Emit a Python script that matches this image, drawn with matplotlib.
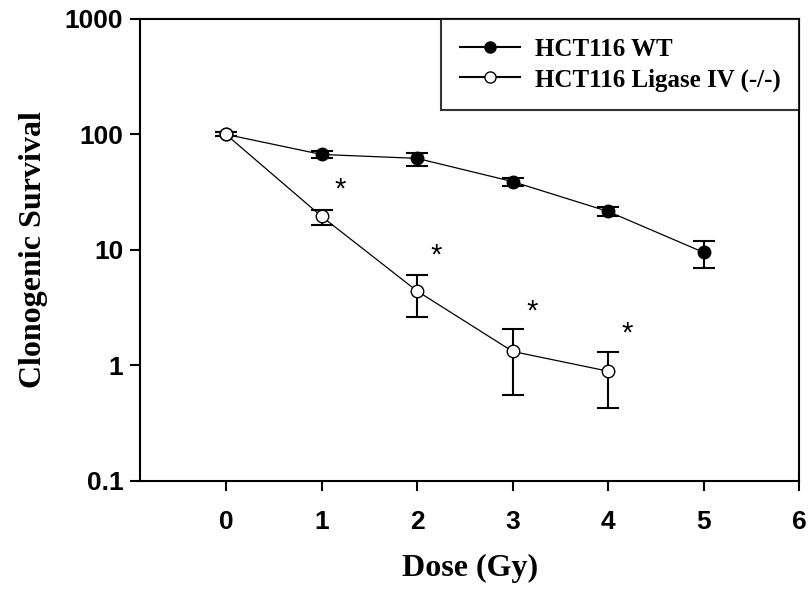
import matplotlib
matplotlib.use("Agg")
import matplotlib.pyplot as plt
from matplotlib.ticker import FixedLocator, NullLocator
from matplotlib.lines import Line2D

dose = [0, 1, 2, 3, 4, 5]
wt = [100, 67, 62, 39, 21.5, 9.5]
wt_lo = [96, 62, 53, 36, 19.5, 7.0]
wt_hi = [104, 72, 69, 42, 23.3, 11.9]

lig_dose = [0, 1, 2, 3, 4]
lig = [100, 19.5, 4.4, 1.32, 0.89]
lig_lo = [96, 16.3, 2.6, 0.55, 0.43]
lig_hi = [104, 22, 6.0, 2.05, 1.3]

star_x = [1.2, 2.2, 3.2, 4.2]
star_y = [33, 9, 2.9, 1.9]

xticks = [0, 1, 2, 3, 4, 5, 6]
yticks = [0.1, 1, 10, 100, 1000]
ytick_labels = ["0.1", "1", "10", "100", "1000"]
labels = ['HCT116 WT', 'HCT116 Ligase IV (-/-)']

fig = plt.figure(figsize=(8.09, 5.90), dpi=100)
ax = fig.add_axes([0.173, 0.185, 0.815, 0.783])

serif = ["Liberation Serif", "DejaVu Serif"]
sans = ["Liberation Sans", "DejaVu Sans"]

wt_err = [[v - l for v, l in zip(wt, wt_lo)], [h - v for v, h in zip(wt, wt_hi)]]
lig_err = [[v - l for v, l in zip(lig, lig_lo)], [h - v for v, h in zip(lig, lig_hi)]]

ax.errorbar(dose, wt, yerr=wt_err, fmt='-', color='black', lw=0.9,
            marker='o', markersize=9, markerfacecolor='black', markeredgecolor='black',
            ecolor='black', elinewidth=1.5, capsize=8, capthick=1.5, zorder=3)
ax.errorbar(lig_dose, lig, yerr=lig_err, fmt='-', color='black', lw=0.9,
            marker='o', markersize=9, markerfacecolor='white', markeredgecolor='black',
            ecolor='black', elinewidth=1.5, capsize=8, capthick=1.5, zorder=3)

for sx, sy in zip(star_x, star_y):
    ax.text(sx, sy, "*", fontsize=21, family=sans, ha='center', va='center')

ax.set_yscale('log')
ax.set_xlim(-0.9, 6)
ax.set_ylim(0.1, 1000)
ax.xaxis.set_major_locator(FixedLocator(xticks))
ax.yaxis.set_major_locator(FixedLocator(yticks))
ax.yaxis.set_minor_locator(NullLocator())
ax.set_yticklabels(ytick_labels)
ax.set_xticklabels([str(t) for t in xticks])

for lab in ax.get_xticklabels() + ax.get_yticklabels():
    lab.set_fontfamily(sans)
    lab.set_fontweight('bold')
    lab.set_fontsize(19)

ax.tick_params(axis='both', direction='out', length=7, width=1.5, color='black')
ax.tick_params(axis='x', pad=14)
ax.tick_params(axis='y', pad=5)
for sp in ax.spines.values():
    sp.set_linewidth(1.5)

ax.set_xlabel("Dose (Gy)", fontsize=23, family=serif, fontweight='bold', labelpad=14)
ax.set_ylabel("Clonogenic Survival", fontsize=23, family=serif, fontweight='bold', labelpad=12)

handles = [
    Line2D([], [], color='black', lw=1.5, marker='o', markersize=8,
           markerfacecolor='black', markeredgecolor='black'),
    Line2D([], [], color='black', lw=1.5, marker='o', markersize=8,
           markerfacecolor='white', markeredgecolor='black'),
]
leg = ax.legend(handles, labels, loc='upper right', bbox_to_anchor=(1.0, 1.0), numpoints=1,
                prop={'family': serif, 'weight': 'bold', 'size': 18},
                frameon=True, fancybox=False, edgecolor='black', borderaxespad=0,
                handlelength=2.4, handletextpad=0.6, labelspacing=0.3,
                borderpad=0.75)
leg.get_frame().set_linewidth(1.5)

fig.savefig("out.png", dpi=100)
